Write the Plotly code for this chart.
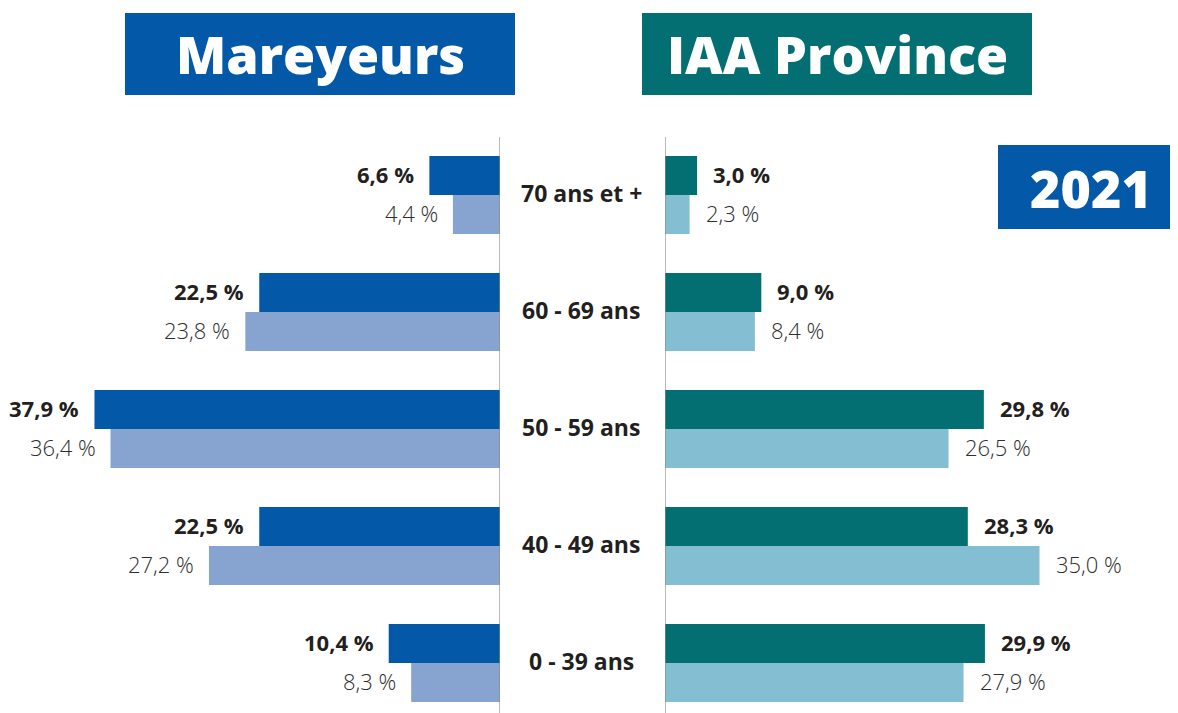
import plotly.graph_objects as go

W, H = 1178, 713
OFF = 8  # page body margin of the browser

categories = ["0 - 39 ans", "40 - 49 ans", "50 - 59 ans", "60 - 69 ans", "70 ans et +"]
mareyeurs_dark = [10.4, 22.5, 37.9, 22.5, 6.6]
mareyeurs_light = [8.3, 27.2, 36.4, 23.8, 4.4]
iaa_dark = [29.9, 28.3, 29.8, 9.0, 3.0]
iaa_light = [27.9, 35.0, 26.5, 8.4, 2.3]

title_left = "Mareyeurs"
title_right = "IAA Province"
year_label = "2021"

BLUE = "#0359A8"
BLUE_L = "#87A3CF"
TEAL = "#036F73"
TEAL_L = "#84BED2"
TXT = "#231F20"
FONT = "Open Sans"
LBL = 22


def fmt(v):
    return f"{v:.1f}".replace(".", ",") + " %"


def px_x(p):
    return (p - OFF) / W


def px_y(p):
    return 1 - (p - OFF) / H


fig = go.Figure()
# light first -> lower bar in each group
fig.add_trace(go.Bar(y=categories, x=mareyeurs_light, orientation="h", marker_color=BLUE_L,
                     marker_line_width=0, xaxis="x", yaxis="y", hoverinfo="skip"))
fig.add_trace(go.Bar(y=categories, x=mareyeurs_dark, orientation="h", marker_color=BLUE,
                     marker_line_width=0, xaxis="x", yaxis="y", hoverinfo="skip"))
fig.add_trace(go.Bar(y=categories, x=iaa_light, orientation="h", marker_color=TEAL_L,
                     marker_line_width=0, xaxis="x2", yaxis="y", hoverinfo="skip"))
fig.add_trace(go.Bar(y=categories, x=iaa_dark, orientation="h", marker_color=TEAL,
                     marker_line_width=0, xaxis="x2", yaxis="y", hoverinfo="skip"))

PX_PER = 10.7
left_zero = 500   # reference pixels
right_zero = 665

ann = []
shift = 19.5
up = 2
for c, d, l in zip(categories, mareyeurs_dark, mareyeurs_light):
    ann.append(dict(x=d, y=c, xref="x", yref="y", text=fmt(d), showarrow=False,
                    xanchor="right", yanchor="middle", xshift=-13, yshift=shift + up,
                    font=dict(family=FONT, size=LBL, color=TXT, weight="bold")))
    ann.append(dict(x=l, y=c, xref="x", yref="y", text=fmt(l), showarrow=False,
                    xanchor="right", yanchor="middle", xshift=-13, yshift=-shift + up,
                    font=dict(family=FONT, size=LBL, color="#2E2E2E", weight=300)))
for c, d, l in zip(categories, iaa_dark, iaa_light):
    ann.append(dict(x=d, y=c, xref="x2", yref="y", text=fmt(d), showarrow=False,
                    xanchor="left", yanchor="middle", xshift=14, yshift=shift + up,
                    font=dict(family=FONT, size=LBL, color=TXT, weight="bold")))
    ann.append(dict(x=l, y=c, xref="x2", yref="y", text=fmt(l), showarrow=False,
                    xanchor="left", yanchor="middle", xshift=14, yshift=-shift + up,
                    font=dict(family=FONT, size=LBL, color="#2E2E2E", weight=300)))
for c in categories:
    ann.append(dict(x=px_x(581), y=c, xref="paper", yref="y", text=c,
                    showarrow=False, xanchor="center", yanchor="middle", yshift=up,
                    font=dict(family=FONT, size=23, color=TXT, weight="bold")))

shapes = [
    dict(type="rect", xref="paper", yref="paper", x0=px_x(125), x1=px_x(515),
         y0=px_y(95), y1=px_y(13), fillcolor=BLUE, line_width=0, layer="below"),
    dict(type="rect", xref="paper", yref="paper", x0=px_x(642), x1=px_x(1032),
         y0=px_y(95), y1=px_y(13), fillcolor=TEAL, line_width=0, layer="below"),
    dict(type="rect", xref="paper", yref="paper", x0=px_x(998), x1=px_x(1180),
         y0=px_y(229), y1=px_y(145), fillcolor=BLUE, line_width=0, layer="below"),
    dict(type="line", xref="x", yref="paper", x0=0, x1=0, y0=0, y1=px_y(137),
         line=dict(color="#8A8A8A", width=1.2)),
    dict(type="line", xref="x2", yref="paper", x0=0, x1=0, y0=0, y1=px_y(137),
         line=dict(color="#8A8A8A", width=1.2)),
]

TFONT = dict(family=FONT, size=52, color="white", weight=800)
ann.append(dict(x=px_x(320), y=px_y(54), xref="paper", yref="paper", text=title_left,
                showarrow=False, xanchor="center", yanchor="middle", font=TFONT))
ann.append(dict(x=px_x(837), y=px_y(54), xref="paper", yref="paper", text=title_right,
                showarrow=False, xanchor="center", yanchor="middle", font=TFONT))
ann.append(dict(x=px_x(1091), y=px_y(187), xref="paper", yref="paper", text=year_label,
                showarrow=False, xanchor="center", yanchor="middle", font=TFONT))

# y axis: category centres 117 px apart, 70+ centred at 195 px, 0-39 at 663 px (reference)
y_top_px, y_bot_px = 137, 713 + OFF
row = 117.0
y_lo = -(y_bot_px - 663) / row
y_hi = 4 + (195 - y_top_px) / row

fig.update_layout(
    width=W, height=H,
    margin=dict(l=0, r=0, t=0, b=0),
    paper_bgcolor="white", plot_bgcolor="white",
    barmode="group", bargap=0.333, bargroupgap=0,
    showlegend=False,
    xaxis=dict(domain=[0, px_x(left_zero)], range=[(left_zero - OFF) / PX_PER, 0],
               showgrid=False, zeroline=False, showticklabels=False, ticks="", fixedrange=True),
    xaxis2=dict(domain=[px_x(right_zero), 1], range=[0, (W + OFF - right_zero) / PX_PER],
                showgrid=False, zeroline=False, showticklabels=False, ticks="", fixedrange=True),
    yaxis=dict(domain=[0, px_y(y_top_px)], range=[y_lo, y_hi], type="category",
               categoryorder="array", categoryarray=categories,
               showgrid=False, zeroline=False, showticklabels=False, ticks="", fixedrange=True),
    annotations=ann, shapes=shapes,
)

fig.write_html("out.html")
